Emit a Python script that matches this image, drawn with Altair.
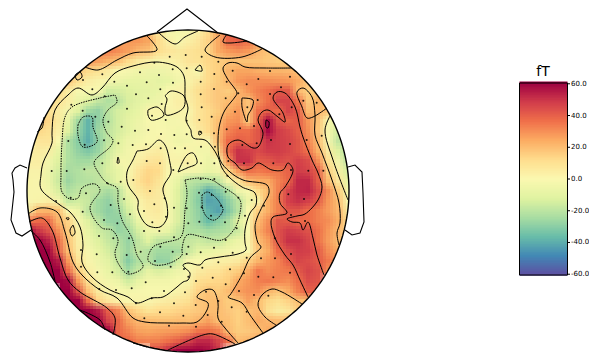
import altair as alt
import pandas as pd
import numpy as np

# ---- value grid (fT), samples every 10 px
heat_rows = [
 (31,158,[8,-2,-3,-2,3,12,25]),
 (41,118,[25,28,28,25,12,3,-1,3,7,14,24,38,40,36,28]),
 (51,98,[32,33,30,26,21,19,11,7,6,8,10,13,24,28,30,28,21,18,14]),
 (61,78,[28,30,26,22,19,12,6,3,1,2,4,8,9,13,15,18,18,18,18,17,16,16,15]),
 (71,68,[14,17,12,9,5,0,-2,-4,-5,-5,-4,-1,3,-1,12,15,22,25,25,23,22,22,21,19,15]),
 (81,58,[20,17,10,4,2,-2,-5,-7,-8,-7,-9,-8,-3,2,6,12,16,21,28,30,30,30,29,28,24,17,15]),
 (91,48,[18,12,5,-1,-1,0,-15,-14,-12,-10,-9,-7,0,2,4,10,14,17,16,21,28,33,36,41,41,21,15,17,15]),
 (101,38,[15,14,9,3,-6,-12,-18,-22,-20,-13,-10,-7,-5,0,3,3,9,14,17,20,24,18,30,36,46,46,35,17,22,18,12]),
 (111,38,[16,10,5,-3,-12,-25,-28,-20,-14,-12,-8,1,2,1,2,0,8,12,16,23,28,18,36,40,37,46,41,20,21,18,5]),
 (121,28,[10,18,13,6,-8,-25,-38,-28,-21,-14,-9,-6,-1,-1,-3,-2,1,8,12,19,28,30,18,38,58,43,39,41,28,18,0,-8,-10]),
 (131,28,[8,13,10,3,-12,-27,-38,-26,-19,-14,-9,-5,-2,0,-2,-3,-1,5,11,20,32,36,36,42,58,48,45,40,30,17,-2,-15,-18]),
 (141,28,[6,7,8,0,-22,-30,-39,-28,-19,-12,-5,-3,-1,1,-2,-4,-3,1,1,20,37,40,38,42,50,48,46,42,32,20,0,-18,-22]),
 (151,28,[4,5,3,-8,-22,-28,-32,-27,-16,-9,-3,1,3,5,1,-1,2,-3,-3,12,38,50,48,45,48,48,46,42,36,22,5,-12,-25]),
 (161,28,[3,4,-3,-12,-22,-25,-25,-20,-14,-2,-3,3,7,9,2,2,3,-1,-6,-1,28,50,50,41,42,45,43,47,44,30,10,-4,-20]),
 (171,28,[2,2,-5,-14,-24,-22,-19,-19,-13,-8,-1,7,13,12,1,-1,-2,-3,-7,-4,12,27,36,34,36,35,39,48,46,40,15,3,-14]),
 (181,28,[2,1,-6,-16,-26,-22,-21,-19,-15,-8,1,9,14,9,-1,-8,-19,-21,-21,-18,-3,8,20,23,24,32,38,52,52,40,20,7,-8]),
 (191,28,[1,1,-3,-13,-22,-19,-18,-20,-24,-20,-6,6,10,6,-1,-12,-22,-28,-39,-32,-22,-5,-1,12,20,33,46,52,53,44,30,16,-3]),
 (201,28,[1,2,4,-2,-17,-15,-17,-25,-28,-21,-10,1,6,5,-1,-12,-22,-30,-42,-40,-29,-20,-6,3,23,33,47,50,47,41,28,20,0]),
 (211,28,[3,21,22,19,0,-6,-19,-25,-29,-26,-14,-1,4,6,-1,-13,-22,-28,-38,-42,-32,-21,-1,15,23,33,42,42,37,33,27,21,5]),
 (221,28,[35,37,38,22,14,-2,-12,-20,-27,-28,-20,-7,2,3,-1,-13,-22,-27,-36,-30,-24,-12,0,20,30,42,41,38,37,33,30,23,10]),
 (231,28,[62,50,43,30,16,3,-8,-15,-19,-27,-25,-14,-6,-4,-8,-17,-22,-22,-25,-23,-21,-16,0,23,32,43,48,46,43,36,28,21,12]),
 (241,38,[64,54,38,18,4,-5,-12,-17,-21,-27,-19,-12,-19,-20,-20,-18,-16,-18,-17,-12,-6,1,19,27,42,50,50,46,36,27,20,15]),
 (251,38,[65,62,41,20,5,-2,-8,-14,-20,-26,-18,-21,-25,-25,-24,-17,-10,-8,-6,-3,-2,0,17,24,37,44,48,47,41,30,24,20]),
 (261,48,[65,55,28,9,1,-5,-10,-18,-30,-22,-20,-28,-27,-15,-2,-1,1,3,4,6,14,22,28,32,40,46,44,41,34,28]),
 (271,48,[66,64,38,16,4,-2,-7,-14,-25,-17,-9,-13,-10,-5,-1,5,7,8,13,16,24,34,30,33,34,41,46,43,30]),
 (281,58,[65,58,28,10,2,-3,-6,-15,-8,-3,-3,-3,-1,1,10,12,13,15,24,28,33,34,32,30,36,44,42]),
 (291,68,[64,42,18,6,1,-1,-3,-2,-1,-1,-1,2,5,14,18,16,20,26,29,30,22,18,24,33,40,40]),
 (301,68,[62,62,36,14,7,3,1,1,1,3,5,7,10,17,19,20,16,18,26,20,13,10,14,19,19]),
 (311,78,[64,68,55,40,32,19,13,9,11,12,14,15,17,20,20,17,15,19,21,10,5,7,15]),
 (321,88,[70,62,46,38,26,21,20,19,19,20,19,22,26,20,19,15,19,24,21,20,20]),
 (331,98,[66,62,38,32,26,25,26,27,28,30,35,36,33,20,16,17,19,24,24]),
 (341,118,[38,38,33,32,33,36,40,46,52,52,46,36,20,22,24]),
 (351,158,[45,52,60,64,64,58,50]),
]

# ---- contour lines (x, y)
solid_lines = {
 "a": [(191,130),(193,138),(205,140),(212,147),(218,157),(222,168),(229,177),(242,187),(255,193),(256,205),(250,213),(245,230),(245,243),(246,250),(238,254),(220,257),(205,260),(200,265),(188,263),(183,265),(185,268),(190,273),(188,280),(183,282),(177,287),(163,297),(152,298),(137,303),(128,297),(110,290),(92,277),(82,262),(83,245),(80,227),(70,212),(60,205),(41,189),(41,175),(43,163),(52,143),(52,133),(55,110),(68,95),(78,88),(92,95),(102,88),(115,73),(133,66),(157,62),(177,67),(184,76),(185,90),(185,97),(188,108),(186,120),(191,130)],
 "topv": [(157,31),(175,44),(185,37),(198,31)],
 "tl20": [(85,67),(98,70),(117,60),(133,53),(157,50),(147,36)],
 "l20rim": [(44,117),(42,128),(37,132)],
 "t20": [(220,35),(205,50),(215,57),(242,57),(262,49)],
 "t40": [(227,34),(223,42),(230,43),(247,41)],
 "tri": [(195,70),(200,65),(202,71),(195,70)],
 "spot": [(199,131),(202,133),(199,135),(199,131)],
 "i1": [(165,96),(171,91),(184,96),(184,107),(176,113),(166,115),(165,108),(167,99),(165,96)],
 "i2": [(148,110),(157,107),(164,115),(158,119),(151,120),(148,115),(148,110)],
 "centre": [(137,151),(148,149),(159,140),(165,145),(170,163),(171,173),(163,188),(167,205),(167,218),(160,227),(147,225),(138,210),(138,200),(128,185),(127,172),(133,160),(137,151)],
 "i3": [(178,172),(187,155),(193,153),(197,163),(187,168),(178,172)],
 "i4": [(117,163),(118,157),(119,163),(117,163)],
 "i5": [(75,75),(80,72),(82,77),(77,80),(75,75)],
 "i6": [(73,225),(75,233),(72,236),(70,230),(73,225)],
 "i7": [(66,218),(69,218),(68,220),(66,218)],
 "r20": [(292,68),(265,68),(245,67),(237,63),(228,63),(223,68),(227,78),(237,93),(235,97),(225,110),(220,123),(218,140),(220,160),(230,172),(243,180),(267,185),(269,193),(263,205),(257,218),(255,227),(258,243),(261,247),(250,258),(242,275),(230,295),(228,297),(242,303),(250,315),(263,333)],
 "r40": [(308,297),(300,280),(293,265),(285,255),(275,238),(271,222),(273,217),(287,213),(280,203),(280,193),(285,187),(293,170),(288,163),(283,170),(272,170),(258,163),(252,168),(242,170),(235,163),(228,157),(228,145),(238,140),(253,148),(258,147),(263,133),(258,120),(262,112),(268,110),(278,117),(285,122),(283,113),(273,98),(277,92),(285,93),(295,107),(300,127),(303,137),(312,160),(318,173),(322,187),(318,200),(305,214),(297,216),(287,219),(292,222),(300,223),(303,230),(308,222),(313,238),(317,255),(324,275)],
 "i8": [(242,98),(253,100),(252,108),(248,115),(247,122),(242,107),(242,98)],
 "p60": [(266,120),(269,122),(268,128),(266,127),(266,120)],
 "r20b": [(327,108),(313,117),(307,118),(302,107),(297,92),(303,88),(312,97),(315,115),(315,135),(322,153),(332,180),(339,203),(340,223),(337,233),(339,245)],
 "r0": [(330,116),(325,130),(333,160),(348,200)],
 "ll20": [(28,214),(40,208),(57,212),(65,232),(73,262),(82,275),(100,290),(117,298),(133,318),(145,322),(170,323),(183,323),(197,322),(207,310),(208,303),(197,297),(205,290),(213,290),(218,303),(218,318),(225,328),(238,343)],
 "ll40": [(29,222),(42,218),(52,230),(60,258),(68,280),(80,292),(107,308),(115,318),(113,335)],
 "ll60a": [(30,230),(40,240),(50,262),(55,281)],
 "ll60b": [(80,310),(100,320),(105,330)],
 "b40": [(168,350),(203,335),(213,334),(235,344)],
 "b20": [(133,343),(147,347)],
 "lr20": [(302,304),(282,292),(272,289),(262,295),(258,305),(265,317),(276,325)],
}
dotted_lines = {
 "d1": [(115,95),(117,102),(108,110),(103,120),(107,133),(113,140),(110,147),(97,158),(94,163),(100,175),(107,183),(117,188),(118,202),(122,220),(132,238),(137,255),(143,267),(128,274),(118,263),(115,253),(118,240),(112,230),(102,228),(90,208),(100,190),(95,184),(82,188),(78,198),(70,199),(62,192),(61,175),(62,143),(65,117),(72,107),(100,98),(115,95)],
 "d2": [(185,180),(200,178),(212,180),(220,185),(240,200),(240,213),(235,228),(222,240),(203,237),(187,235),(182,249),(182,255),(170,263),(155,265),(148,260),(153,247),(163,243),(180,238),(183,232),(185,210),(187,193),(185,180)],
 "d3": [(78,125),(83,117),(92,117),(93,127),(97,142),(83,147),(78,135),(78,125)],
 "d4": [(202,195),(207,192),(213,195),(220,203),(223,210),(215,220),(208,218),(203,210),(202,195)],
}

sensor_crops = [
 (0,0,[(307,223),(249,240),(277,268),(343,245),(381,257),(420,217),(463,188),(509,170),(518,208),(477,225),(440,247),(519,248),(408,283),(445,295),(481,268),(314,289),(214,314),(248,332),(286,350),(381,326),(325,365),(365,380),(405,392),(445,390),(485,312),(456,347),(497,360),(523,405),(483,402),(438,433),(398,435),(355,430),(312,421),(254,434),(205,423),(307,490),(253,508),(200,513),(155,513),(440,483),(480,490),(482,445),(525,445),(520,510),(555,445),(557,165)]),
 (185,0,[(2,165),(5,205),(50,170),(100,185),(143,212),(255,213),(88,222),(125,245),(47,245),(315,230),(220,237),(185,253),(288,262),(160,280),(255,282),(218,300),(395,308),(355,302),(320,322),(47,283),(87,267),(122,295),(50,322),(80,350),(187,322),(150,335),(283,343),(125,388),(165,385),(207,378),(43,360),(5,362),(47,395),(87,400),(5,403),(48,440),(5,443),(90,440),(215,430),(172,435),(258,420),(315,432),(365,420),(410,407),(130,483),(177,490),(265,490),(8,490),(48,490),(88,490),(318,510),(370,512),(127,527)]),
 (0,175,[(212,68),(258,55),(322,25),(362,20),(168,78),(248,110),(332,90),(372,72),(312,135),(390,118),(432,108),(463,88),(494,70),(522,98),(450,48),(400,15),(352,145),(457,142),(498,125),(297,183),(340,190),(387,190),(422,230),(380,240),(290,238),(243,225),(243,275),(292,292),(337,292),(385,290),(437,322),(395,340),(348,345),(298,342),(481,215),(518,230),(465,258),(512,275),(552,282),(522,187),(565,215),(478,168),(432,168),(565,145),(408,385),(455,370),(492,348),(555,352),(522,385),(480,412),(550,422),(433,430),(507,452),(565,305)]),
 (185,175,[(47,12),(88,12),(122,50),(160,68),(42,53),(80,60),(50,97),(108,92),(5,100),(5,147),(43,140),(78,122),(120,142),(155,160),(200,75),(237,92),(180,122),(310,58),(357,72),(318,120),(360,138),(270,190),(318,237),(270,250),(228,250),(185,248),(143,233),(87,218),(122,195),(47,232),(5,237),(100,262),(52,278),(135,283),(177,295),(220,305),(265,307),(315,293),(83,308),(122,328),(33,318),(162,348),(207,360),(250,362),(63,350),(100,378),(140,397),(185,410),(32,390),(68,420),(110,440),(33,455)]),
 (280,60,[(30,50),(68,122),(110,128),(33,140),(125,228),(80,240),(30,250),(33,330),(130,332),(85,332),(25,403),(73,417),(33,465),(75,482)]),
]

nose = [(157,32),(187,9),(218,33)]
ear_left = [(27,168),(20,165),(15,168),(12,173),(13,180),(14,192),(11,220),(16,233),(22,236),(31,230)]
ear_right = [(348,167),(355,165),(362,172),(363,193),(364,222),(360,233),(352,235),(345,230)]
head_cx, head_cy, head_r = 188, 191, 161

colorbar_ticks = [60, 40, 20, 0, -20, -40, -60]
colorbar_labels = ["60.0", "40.0", "20.0", "0.0", "-20.0", "-40.0", "-60.0"]
colorbar_levels = list(range(-61, 61))
vlim = 60.5

# ---- tables
cells = []
for y, x0, vals in heat_rows:
    for i, v in enumerate(vals):
        cells.append((x0 + 10 * i, y, v))
cells = pd.DataFrame(cells, columns=["cx", "cy", "v"])

def shifted(sx, sy):
    d = cells.copy()
    d["x0"] = d.cx + sx; d["x1"] = d.x0 + 10
    d["y0"] = d.cy + sy; d["y1"] = d.y0 + 10
    return d[["x0", "x1", "y0", "y1", "v"]]

def lines_df(lines):
    rows = []
    for name, pts in lines.items():
        for i, (x, y) in enumerate(pts):
            rows.append((name, i, x, y))
    return pd.DataFrame(rows, columns=["id", "i", "x", "y"])

sensors = []
for ox, oy, pts in sensor_crops:
    for zx, zy in pts:
        x, y = zx / 3 + ox, zy / 3 + oy
        if all((x - a) ** 2 + (y - b) ** 2 > 25 for a, b in sensors):
            sensors.append((x, y))
sensors = pd.DataFrame(sensors, columns=["x", "y"])

ang = np.radians(np.arange(0, 361, 2))
circle = pd.DataFrame({"x": head_cx + head_r * np.cos(ang), "y": head_cy + head_r * np.sin(ang), "i": range(len(ang))})

top_x = [15.0, head_cx - head_r] + list(head_cx + head_r * np.cos(np.radians(np.arange(178, 0, -2)))) + [head_cx + head_r, 368.0]
half = [0.0, 0.0] + list(head_r * np.sin(np.radians(np.arange(178, 0, -2)))) + [0.0, 0.0]
mask = pd.DataFrame({"x": top_x, "h": half})
mask["yt"] = head_cy - mask.h
mask["yb"] = head_cy + mask.h
mask["t0"] = 15.0
mask["b0"] = 362.0

x_scale = alt.Scale(domain=[8, 589], nice=False, zero=False)
y_scale = alt.Scale(domain=[354, 8], nice=False, zero=False)
X = alt.X("x:Q", scale=x_scale, axis=None)
Y = alt.Y("y:Q", scale=y_scale, axis=None)
color_scale = alt.Scale(scheme="spectral", reverse=True, domain=[-vlim, vlim], clamp=True)

def heat_layer(sx, sy, op):
    return alt.Chart(shifted(sx, sy)).mark_rect(opacity=op, strokeWidth=0).encode(
        x=alt.X("x0:Q", scale=x_scale, axis=None), x2="x1:Q",
        y=alt.Y("y0:Q", scale=y_scale, axis=None), y2="y1:Q",
        color=alt.Color("v:Q", scale=color_scale, legend=None))

def line_layer(df, order="i", **kw):
    enc = dict(x=X, y=Y, order=alt.Order(order + ":Q"))
    if "id" in df.columns:
        enc["detail"] = "id:N"
    return alt.Chart(df).mark_line(color="black", **kw).encode(**enc)

# the same cells drawn at three staggered offsets, blended so the mosaic reads as a soft image
heat = []
for sy in (-8, -5, -2):
    for sx in (-8, -5, -2):
        heat.append(heat_layer(sx, sy, 1 / (len(heat) + 1)))
mask_top = alt.Chart(mask).mark_area(color="white", interpolate="linear").encode(x=X, y=alt.Y("yt:Q", scale=y_scale, axis=None), y2="t0:Q")
mask_bot = alt.Chart(mask).mark_area(color="white", interpolate="linear").encode(x=X, y=alt.Y("yb:Q", scale=y_scale, axis=None), y2="b0:Q")
solid = line_layer(lines_df(solid_lines), strokeWidth=1, interpolate="catmull-rom")
dotted = line_layer(lines_df(dotted_lines), strokeWidth=1, interpolate="catmull-rom", strokeDash=[1.5, 1])
dots = alt.Chart(sensors).mark_circle(size=4, color="black", opacity=0.85).encode(x=X, y=Y)
outline = [line_layer(circle, strokeWidth=1.4)]
for pts in (nose, ear_left, ear_right):
    d = pd.DataFrame(pts, columns=["x", "y"]); d["i"] = range(len(d))
    outline.append(line_layer(d, strokeWidth=1.1))
fT = alt.Chart(pd.DataFrame({"x": [543], "y": [76], "t": ["fT"]})).mark_text(
    font="DejaVu Sans", fontSize=14, baseline="alphabetic", align="center", color="black").encode(x=X, y=Y, text="t:N")
head = alt.layer(*heat, mask_top, mask_bot, solid, dotted, dots, *outline, fT)

# ---- colour bar, with its own value scale
cb_y = alt.Scale(domain=[-vlim, vlim], range=[267, 75], nice=False, zero=False)
cb = pd.DataFrame({"v": colorbar_levels})
cb["c"] = cb.v + 0.5
cb["v1"] = cb.v + 1.5
cb["x0"] = 519.5
cb["x1"] = 567.5
strip = alt.Chart(cb).mark_rect(strokeWidth=0).encode(
    x=alt.X("x0:Q", scale=x_scale, axis=None), x2="x1:Q",
    y=alt.Y("v:Q", scale=cb_y, axis=None), y2="v1:Q",
    color=alt.Color("c:Q", scale=color_scale, legend=None))
frame = alt.Chart(pd.DataFrame({"x0": [519.5], "x1": [567.5], "a": [-vlim], "b": [vlim]})).mark_rect(
    fill="transparent", stroke="black", strokeWidth=1).encode(
    x=alt.X("x0:Q", scale=x_scale, axis=None), x2="x1:Q",
    y=alt.Y("a:Q", scale=cb_y, axis=None), y2="b:Q")
tk = pd.DataFrame({"v": colorbar_ticks, "t": colorbar_labels})
tk["x0"] = 567.5; tk["x1"] = 570.0; tk["xt"] = 571.0
ticks = alt.Chart(tk).mark_rule(color="black", strokeWidth=1).encode(
    x=alt.X("x0:Q", scale=x_scale, axis=None), x2="x1:Q",
    y=alt.Y("v:Q", scale=cb_y, axis=None))
labels = alt.Chart(tk).mark_text(font="DejaVu Sans", fontSize=7, align="left", baseline="middle", color="black").encode(
    x=alt.X("xt:Q", scale=x_scale, axis=None),
    y=alt.Y("v:Q", scale=cb_y, axis=None), text="t:N")
bar = alt.layer(strip, frame, ticks, labels)

chart = alt.layer(head, bar).resolve_scale(y="independent").properties(
    width=581, height=346, padding=0, autosize=alt.AutoSizeParams(type="none"),
).configure_view(stroke=None)
chart.save("out.html", embed_options={"renderer": "svg", "actions": False})
